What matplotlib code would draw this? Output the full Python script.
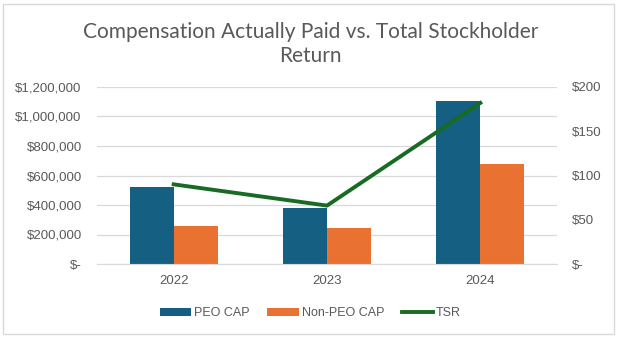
import numpy as np
import matplotlib.pyplot as plt
from matplotlib.patches import Rectangle
from matplotlib.ticker import FuncFormatter

years = ['2022', '2023', '2024']
peo_cap = [522000, 380000, 1105000]
non_peo_cap = [260000, 246000, 680000]
tsr = [90, 66, 182]

blue = '#156082'
orange = '#E97132'
green = '#196B24'
txt = '#595959'

plt.rcParams['font.family'] = ['Liberation Sans', 'DejaVu Sans']

fig = plt.figure(figsize=(6.21, 3.39), dpi=100)
fig.patches.append(Rectangle((3 / 621, 1 - 334 / 339), 611 / 621, 330 / 339,
                             transform=fig.transFigure, fill=False,
                             edgecolor='#D9D9D9', linewidth=1))

ax = fig.add_axes([97 / 621, 1 - 264 / 339, 460 / 621, 177 / 339])
x = np.arange(len(years))
w = 0.287
ax.bar(x - w / 2, peo_cap, w, color=blue, label='PEO CAP', zorder=2)
ax.bar(x + w / 2, non_peo_cap, w, color=orange, label='Non-PEO CAP', zorder=2)
ax.set_xlim(-0.5, 2.5)
ax.set_ylim(0, 1200000)
ax.set_yticks(np.arange(0, 1200001, 200000))
ax.yaxis.set_major_formatter(FuncFormatter(lambda v, p: '$-' if v == 0 else '${:,.0f}'.format(v)))
ax.set_xticks(x)
ax.set_xticklabels(years)
ax.grid(axis='y', color='#D9D9D9', linewidth=0.9, zorder=0)
for s in ['top', 'left', 'right']:
    ax.spines[s].set_visible(False)
ax.spines['bottom'].set_color('#D9D9D9')
ax.tick_params(axis='both', length=0, colors=txt, labelsize=9.5)
ax.tick_params(axis='y', pad=11)
ax.tick_params(axis='x', pad=8)

ax2 = ax.twinx()
ax2.plot(x, tsr, color=green, linewidth=2.8, label='TSR', zorder=3)
ax2.set_ylim(0, 200)
ax2.set_yticks(np.arange(0, 201, 50))
ax2.yaxis.set_major_formatter(FuncFormatter(lambda v, p: '$-' if v == 0 else '${:,.0f}'.format(v)))
for s in ['top', 'left', 'right', 'bottom']:
    ax2.spines[s].set_visible(False)
ax2.tick_params(axis='y', length=0, colors=txt, labelsize=9.5, pad=11)

fig.text(0.5, 1 - 44 / 339, 'Compensation Actually Paid vs. Total Stockholder\nReturn',
         ha='center', va='center', fontsize=15, color=txt, family=['Lato', 'DejaVu Sans'],
         linespacing=1.25)

h1, l1 = ax.get_legend_handles_labels()
h2, l2 = ax2.get_legend_handles_labels()
fig.legend(h1 + h2, l1 + l2, loc='center', bbox_to_anchor=(0.5, 1 - 313 / 339),
           ncol=3, frameon=False, fontsize=9, labelcolor=txt,
           handlelength=2.5, handleheight=0.6, handletextpad=0.25, columnspacing=1.4)

fig.savefig('out.png', dpi=100)
